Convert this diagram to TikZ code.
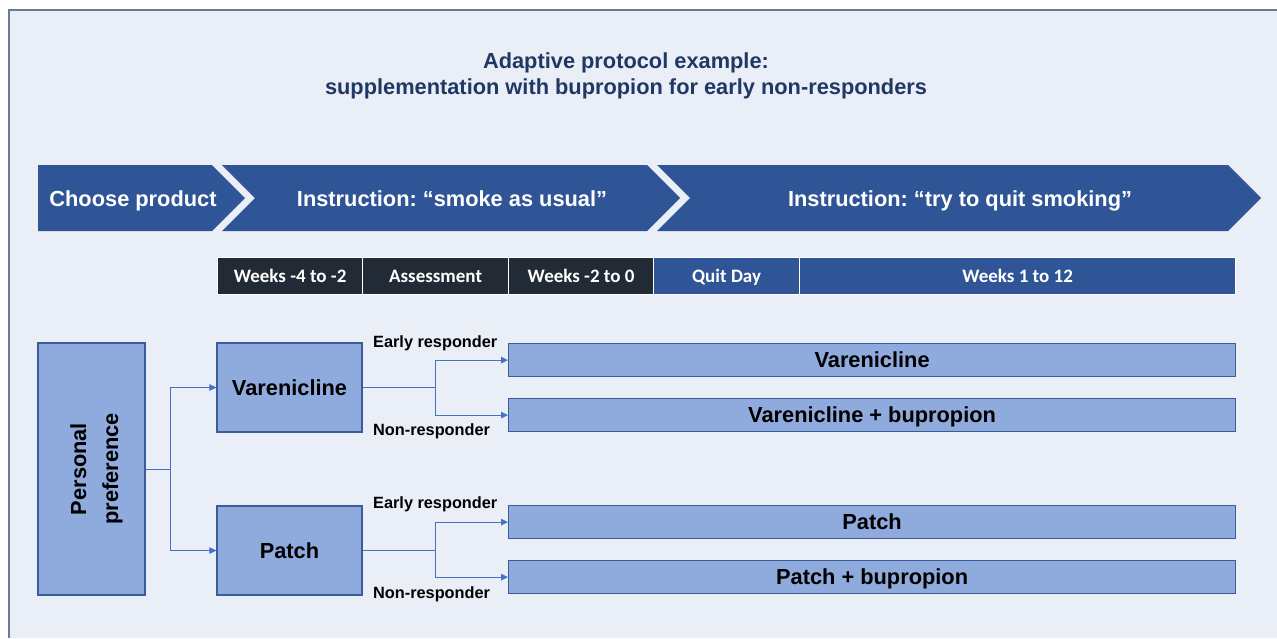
\documentclass[tikz,border=0pt]{standalone}
\usepackage{fontspec}
\setmainfont{Liberation Sans}
\newfontfamily\calib{Carlito}
\usetikzlibrary{arrows.meta}
\frenchspacing
\definecolor{bgc}{HTML}{EAEEF7}
\definecolor{chev}{HTML}{2F5597}
\definecolor{darkc}{HTML}{222A35}
\definecolor{lightbox}{HTML}{8FAADC}
\definecolor{boxedge}{HTML}{3A5C9C}
\definecolor{arrc}{HTML}{4472C4}
\definecolor{titlec}{HTML}{203864}
\definecolor{framec}{HTML}{6A7A99}
\tikzset{
  chevtext/.style={text=white, font=\fontsize{21.8}{26}\selectfont\bfseries, inner sep=0pt, text depth=0pt},
  cell/.style={draw=white, line width=1.2pt, minimum height=37pt, inner sep=0pt, text=white, font=\calib\fontsize{19}{22}\selectfont\bfseries, anchor=north west, text height=12.5pt, text depth=0pt},
  lbox/.style={fill=lightbox, draw=boxedge, line width=1.2pt, inner sep=0pt, font=\fontsize{21.8}{26}\selectfont\bfseries, align=center, text depth=0pt},
  rbox/.style={fill=lightbox, draw=boxedge, line width=1.2pt, inner sep=0pt, anchor=north west, minimum width=727pt, minimum height=33pt, font=\fontsize{21.8}{26}\selectfont\bfseries, text height=15.6pt, text depth=0pt},
  lab/.style={font=\fontsize{16.3}{19}\selectfont\bfseries, anchor=west, inner sep=0pt},
  arr/.style={draw=arrc, line width=1pt, -{Triangle[length=7pt,width=6.5pt]}}
}
\begin{document}
\begin{tikzpicture}[x=1pt,y=-1pt]
\useasboundingbox (0,0) rectangle (1277,638);
\fill[white] (0,0) rectangle (1277,638);
\fill[bgc] (9,10) rectangle (1277,638);
\draw[framec, line width=1.2pt] (1277,10) -- (9,10) -- (9,638);
% title
\node[text=titlec, font=\fontsize{21.8}{26.5}\selectfont\bfseries, align=center] (title) at (626,76) {Adaptive protocol example:\\supplementation with bupropion for early non-responders};
% chevrons
\fill[chev] (38,165) -- (212,165) -- (245,198) -- (212,231) -- (38,231) -- cycle;
\fill[chev] (222,165) -- (647,165) -- (680,198) -- (647,231) -- (222,231) -- (255,198) -- cycle;
\fill[chev] (657,165) -- (1228,165) -- (1261,198) -- (1228,231) -- (657,231) -- (690,198) -- cycle;
\node[chevtext] (c1) at (133,199) {Choose product};
\node[chevtext] (c2) at (452,199) {Instruction: “smoke as usual”};
\node[chevtext] (c3) at (960,199) {Instruction: “try to quit smoking”};
% timeline
\node[cell, fill=darkc, minimum width=145pt] (t1) at (217,257) {Weeks -4 to -2};
\node[cell, fill=darkc, minimum width=146pt] (t2) at (362,257) {Assessment};
\node[cell, fill=darkc, minimum width=145pt] (t3) at (508,257) {Weeks -2 to 0};
\node[cell, fill=chev, minimum width=146pt] (t4) at (653,257) {Quit Day};
\node[cell, fill=chev, minimum width=436pt] (t5) at (799,257) {Weeks 1 to 12};
% left boxes
\node[lbox, minimum width=107pt, minimum height=252pt] (pp) at (91.5,469) {};
\node[rotate=90, font=\fontsize{21.8}{32}\selectfont\bfseries, align=center] (pptext) at ([xshift=5pt]pp.center) {Personal\\preference};
\node[lbox, minimum width=145pt, minimum height=89pt] (var) at (289.5,387.5) {Varenicline};
\node[lbox, minimum width=145pt, minimum height=89pt] (pat) at (289.5,550.5) {Patch};
% right boxes
\node[rbox] (r1) at (508,343) {Varenicline};
\node[rbox] (r2) at (508,398) {Varenicline + bupropion};
\node[rbox] (r3) at (508,505) {Patch};
\node[rbox] (r4) at (508,560) {Patch + bupropion};
% labels
\node[lab] (e1) at (373,343) {Early responder};
\node[lab] (n1) at (373,431) {Non-responder};
\node[lab] (e2) at (373,504) {Early responder};
\node[lab] (n2) at (373,594) {Non-responder};
% connectors
\coordinate (b0) at ([xshift=25pt]pp.east);
\draw[arr] (pp.east) -- (b0) |- (var.west);
\draw[arr] (b0) |- (pat.west);
\coordinate (b1) at ([xshift=73pt]var.east);
\draw[arr] (var.east) -- (b1) |- (r1.west);
\draw[arr] (b1) |- (r2.west);
\coordinate (b2) at ([xshift=73pt]pat.east);
\draw[arr] (pat.east) -- (b2) |- (r3.west);
\draw[arr] (b2) |- (r4.west);
\end{tikzpicture}
\end{document}
